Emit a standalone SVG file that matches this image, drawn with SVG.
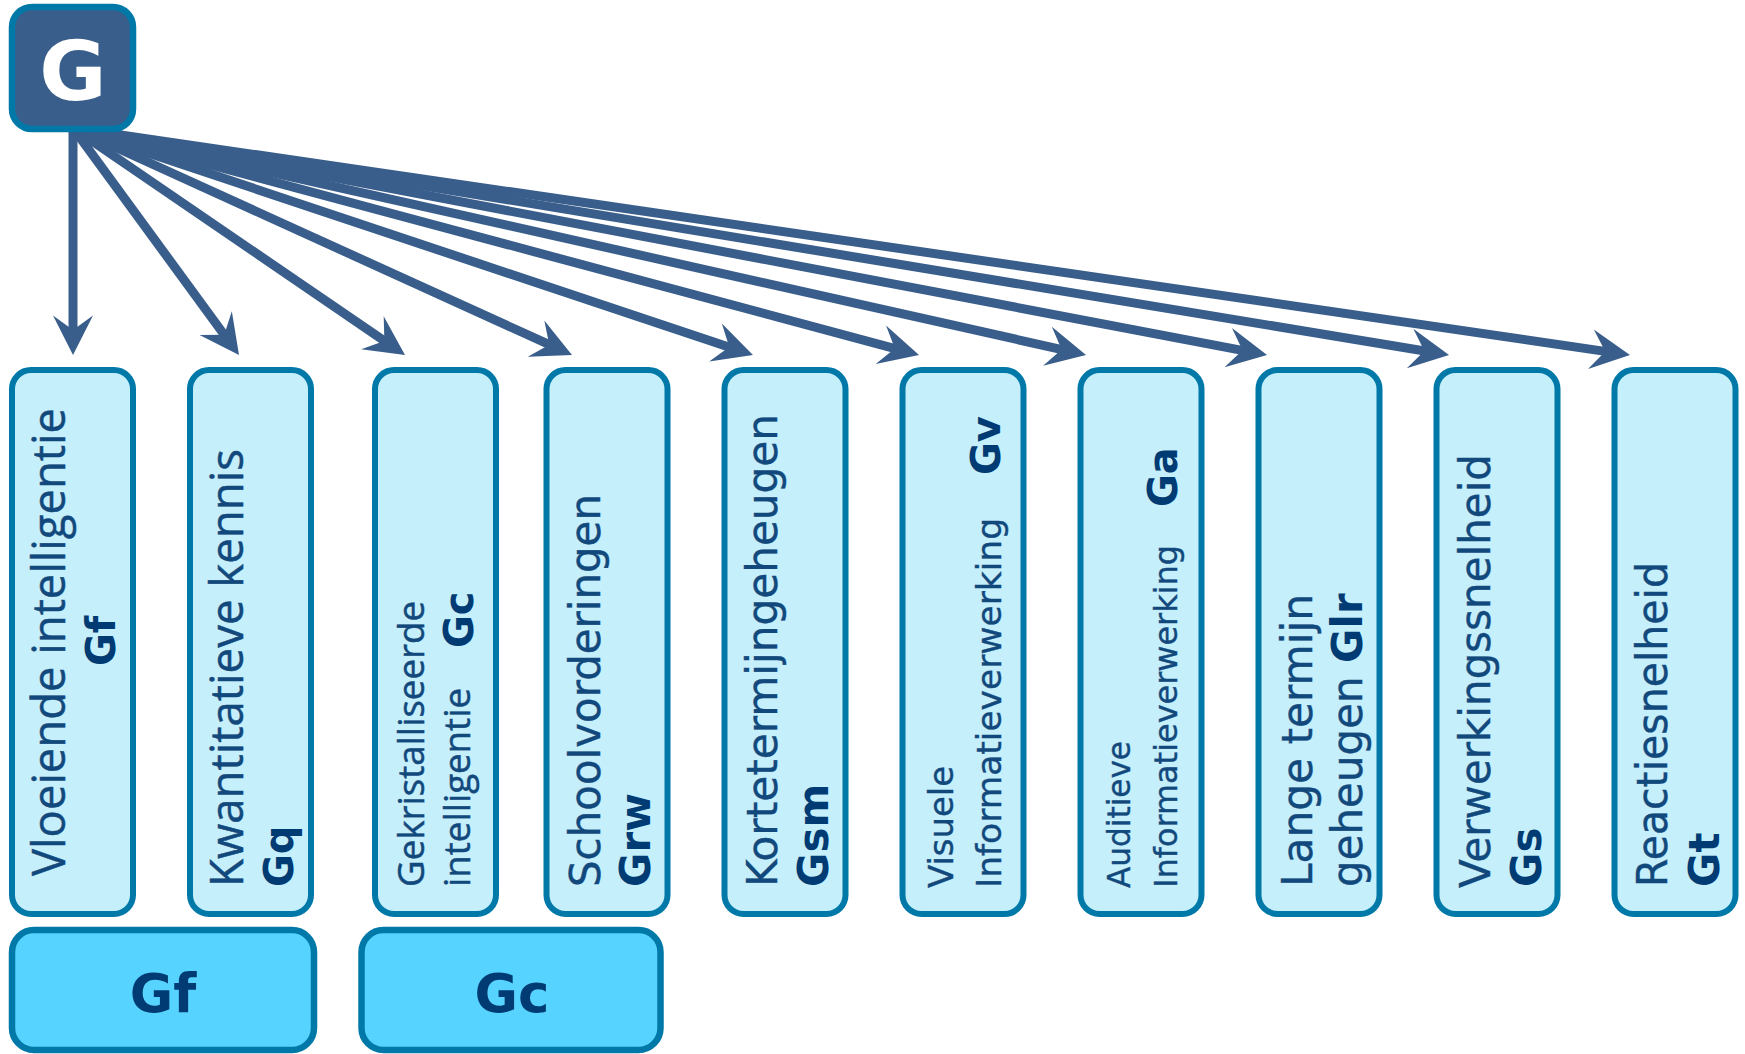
<svg xmlns="http://www.w3.org/2000/svg" width="1745" height="1054" viewBox="0 0 1745 1054">
<defs>
<style>
.box{fill:#C6EFFC;stroke:#0079A8;stroke-width:6}
.wide{fill:#57D3FF;stroke:#0079A8;stroke-width:6.5}
.conn{stroke:#3A5E8B;stroke-width:9;fill:none;marker-end:url(#ah)}
.seg{font-family:"Open Sans","Noto Sans",sans-serif;fill:#12497C;stroke:#12497C;stroke-width:0.5}
.ver{font-family:"DejaVu Sans",Verdana,sans-serif;fill:#12497C;stroke:#12497C;stroke-width:0.4}
.code{font-family:"DejaVu Sans",Verdana,sans-serif;font-weight:bold;fill:#003B73;stroke:none}
</style>
<marker id="ah" markerUnits="userSpaceOnUse" orient="auto" viewBox="-20 -21 42 42" markerWidth="42" markerHeight="42" refX="0" refY="0" overflow="visible">
<path d="M20,0 L-19.5,-20 L-5,0 L-19.5,20 Z" fill="#3A5E8B"/>
</marker>
</defs>
<rect width="1745" height="1054" fill="#FFFFFF"/>
<g id="connectors">
<line class="conn" x1="73" y1="128" x2="73" y2="335"/>
<line class="conn" x1="73" y1="128" x2="227.2" y2="338.9"/>
<line class="conn" x1="73" y1="128" x2="388.5" y2="343.7"/>
<line class="conn" x1="73" y1="128" x2="553.8" y2="346.7"/>
<line class="conn" x1="73" y1="128" x2="734.0" y2="348.7"/>
<line class="conn" x1="73" y1="128" x2="899.7" y2="349.8"/>
<line class="conn" x1="73" y1="128" x2="1066.5" y2="350.6"/>
<line class="conn" x1="73" y1="128" x2="1247.4" y2="351.3"/>
<line class="conn" x1="73" y1="128" x2="1429.3" y2="351.7"/>
<line class="conn" x1="73" y1="128" x2="1610.2" y2="352.1"/>
</g>
<g id="node-G">
<rect x="12" y="7" width="121" height="122" rx="20" fill="#3A5E8B" stroke="#0079A8" stroke-width="6.5"/>
<text x="73" y="100" text-anchor="middle" font-family="'DejaVu Sans',Verdana,sans-serif" font-weight="bold" font-size="82" fill="#FFFFFF">G</text>
</g>
<g id="node-Gf">
<rect class="box" x="12" y="370" width="121" height="544" rx="19"/>
<text class="seg" font-size="46" transform="translate(65,876) rotate(-90)" textLength="468" lengthAdjust="spacingAndGlyphs">Vloeiende intelligentie</text>
<text class="code" font-size="40" text-anchor="middle" transform="translate(115,641) rotate(-90)">Gf</text>
</g>
<g id="node-Gq">
<rect class="box" x="190" y="370" width="121" height="544" rx="19"/>
<text class="seg" font-size="46" transform="translate(243,887) rotate(-90)" textLength="438" lengthAdjust="spacingAndGlyphs">Kwantitatieve kennis</text>
<text class="code" font-size="40" transform="translate(293,887) rotate(-90)">Gq</text>
</g>
<g id="node-Gc">
<rect class="box" x="375" y="370" width="121" height="544" rx="19"/>
<text class="seg" font-size="37" transform="translate(424,887) rotate(-90)" textLength="286" lengthAdjust="spacingAndGlyphs">Gekristalliseerde</text>
<text class="seg" font-size="37" transform="translate(470,887) rotate(-90)" textLength="199" lengthAdjust="spacingAndGlyphs">intelligentie</text>
<text class="code" font-size="40" transform="translate(473,648) rotate(-90)">Gc</text>
</g>
<g id="node-Grw">
<rect class="box" x="546.5" y="370" width="121" height="544" rx="19"/>
<text class="ver" font-size="42" transform="translate(600,887) rotate(-90)" textLength="393" lengthAdjust="spacingAndGlyphs">Schoolvorderingen</text>
<text class="code" font-size="42" transform="translate(650,887) rotate(-90)">Grw</text>
</g>
<g id="node-Gsm">
<rect class="box" x="724.5" y="370" width="121" height="544" rx="19"/>
<text class="ver" font-size="42" transform="translate(777,887) rotate(-90)" textLength="473" lengthAdjust="spacingAndGlyphs">Kortetermijngeheugen</text>
<text class="code" font-size="42" transform="translate(828,887) rotate(-90)">Gsm</text>
</g>
<g id="node-Gv">
<rect class="box" x="902.5" y="370" width="121" height="544" rx="19"/>
<text class="ver" font-size="34" transform="translate(953,888) rotate(-90)" textLength="122" lengthAdjust="spacingAndGlyphs">Visuele</text>
<text class="ver" font-size="34" transform="translate(1001,888) rotate(-90)" textLength="370" lengthAdjust="spacingAndGlyphs">Informatieverwerking</text>
<text class="code" font-size="40" transform="translate(1000,475) rotate(-90)">Gv</text>
</g>
<g id="node-Ga">
<rect class="box" x="1080.5" y="370" width="121" height="544" rx="19"/>
<text class="ver" font-size="32" transform="translate(1130,888) rotate(-90)" textLength="147" lengthAdjust="spacingAndGlyphs">Auditieve</text>
<text class="ver" font-size="32" transform="translate(1177,888) rotate(-90)" textLength="343" lengthAdjust="spacingAndGlyphs">Informatieverwerking</text>
<text class="code" font-size="40" transform="translate(1177,507) rotate(-90)">Ga</text>
</g>
<g id="node-Glr">
<rect class="box" x="1258.5" y="370" width="121" height="544" rx="19"/>
<text class="ver" font-size="42" transform="translate(1312,887) rotate(-90)" textLength="293" lengthAdjust="spacingAndGlyphs">Lange termijn</text>
<text class="ver" font-size="42" transform="translate(1362,887) rotate(-90)">geheugen <tspan class="code">Glr</tspan></text>
</g>
<g id="node-Gs">
<rect class="box" x="1436.5" y="370" width="121" height="544" rx="19"/>
<text class="ver" font-size="42" transform="translate(1490,888) rotate(-90)" textLength="434" lengthAdjust="spacingAndGlyphs">Verwerkingssnelheid</text>
<text class="code" font-size="42" transform="translate(1541,887) rotate(-90)">Gs</text>
</g>
<g id="node-Gt">
<rect class="box" x="1614.5" y="370" width="121" height="544" rx="19"/>
<text class="ver" font-size="42" transform="translate(1667,887) rotate(-90)" textLength="325" lengthAdjust="spacingAndGlyphs">Reactiesnelheid</text>
<text class="code" font-size="42" transform="translate(1719,887) rotate(-90)">Gt</text>
</g>
<g id="group-Gf">
<rect class="wide" x="12" y="930" width="302" height="120" rx="22"/>
<text class="code" font-size="53" text-anchor="middle" x="163" y="1012">Gf</text>
</g>
<g id="group-Gc">
<rect class="wide" x="361.5" y="930" width="299" height="120" rx="22"/>
<text class="code" font-size="53" text-anchor="middle" x="512" y="1012">Gc</text>
</g>
</svg>
